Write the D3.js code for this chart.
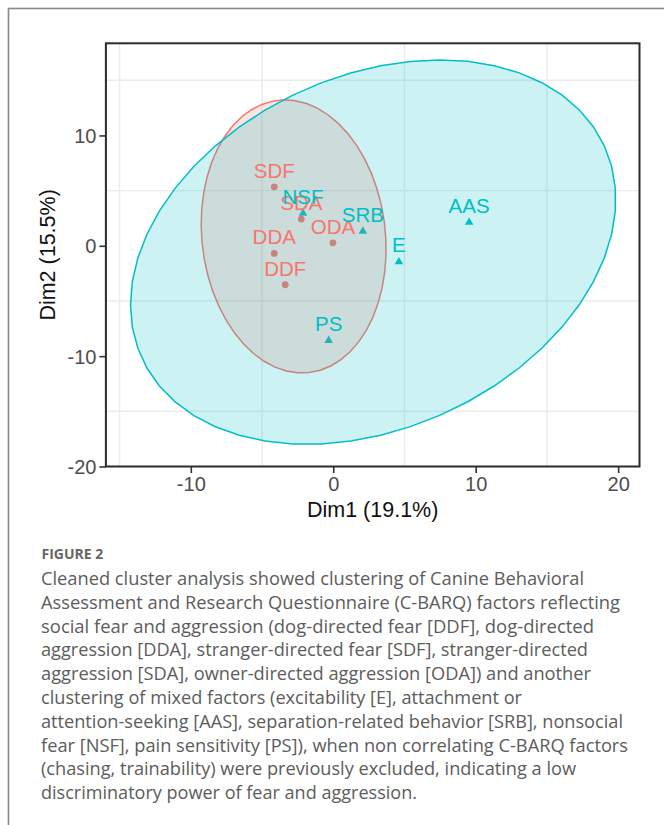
<!DOCTYPE html>
<html lang="en">
<head>
  <meta charset="utf-8">
  <title>Figure 2</title>
  <script src="https://d3js.org/d3.v7.min.js"></script>
  <style>
    body { margin: 0; background: #fff; }
    .tick text { font-family: "Liberation Sans", Arial, sans-serif; }
  </style>
</head>
<body>
<div id="chart"></div>
<script>
// factor coordinates
var factorNames = ["SDF", "SDA", "ODA", "DDA", "DDF", "NSF", "SRB", "E", "PS", "AAS"];
var dim1Vals = [-4.14, -2.24, -0.02, -4.14, -3.37, -2.12, 2.08, 4.61, -0.32, 9.54];
var dim2Vals = [5.34, 2.42, 0.27, -0.69, -3.53, 2.99, 1.36, -1.41, -8.53, 2.17];
var clusterOf = [1, 1, 1, 1, 1, 2, 2, 2, 2, 2];

// cluster ellipses: centre plus two conjugate radius vectors (data units)
var ellCenter = [[-2.78, 0.85], [2.80, -0.57]];
var ellU = [[1.08, -12.34], [16.23, 9.63]];
var ellV = [[-6.40, -0.93], [5.17, -14.51]];

var xTicks = [-10, 0, 10, 20];
var yTicks = [-20, -10, 0, 10];
var xGrid = [-15, -5, 5, 15];
var yGrid = [-15, -5, 5, 15];

var captionLines = [
  "Cleaned cluster analysis showed clustering of Canine Behavioral",
  "Assessment and Research Questionnaire (C-BARQ) factors reflecting",
  "social fear and aggression (dog-directed fear [DDF], dog-directed",
  "aggression [DDA], stranger-directed fear [SDF], stranger-directed",
  "aggression [SDA], owner-directed aggression [ODA]) and another",
  "clustering of mixed factors (excitability [E], attachment or",
  "attention-seeking [AAS], separation-related behavior [SRB], nonsocial",
  "fear [NSF], pain sensitivity [PS]), when non correlating C-BARQ factors",
  "(chasing, trainability) were previously excluded, indicating a low",
  "discriminatory power of fear and aggression."
];
// where each caption line ends in the original (the journal font is wider)
var captionEnds = [584, 620, 594, 588, 591, 522, 623, 628, 576, 417];

var colors = {1: "#F8766D", 2: "#00BFC4"};

var W = 664, H = 825;
var svg = d3.select("#chart").append("svg")
  .attr("width", W).attr("height", H);

// card outline
svg.append("rect")
  .attr("x", 8.5).attr("y", 8.5).attr("width", 720).attr("height", 900)
  .attr("fill", "#fff").attr("stroke", "#8a8a8a").attr("stroke-width", 1.6);

var pLeft = 105.9, pRight = 639.5, pTop = 43.3, pBottom = 466.5;
var x = d3.scaleLinear().domain([-15.96, 21.5]).range([pLeft, pRight]);
var y = d3.scaleLinear().domain([-20, 18.35]).range([pBottom, pTop]);

var plot = svg.append("g");

// grid (only at the in-between positions, like the original)
plot.selectAll(".gx").data(xGrid).enter().append("line")
  .attr("x1", function(d) { return x(d); }).attr("x2", function(d) { return x(d); })
  .attr("y1", pTop).attr("y2", pBottom)
  .attr("stroke", "#ebebeb").attr("stroke-width", 1.4);
plot.selectAll(".gy").data(yGrid).enter().append("line")
  .attr("y1", function(d) { return y(d); }).attr("y2", function(d) { return y(d); })
  .attr("x1", pLeft).attr("x2", pRight)
  .attr("stroke", "#ebebeb").attr("stroke-width", 1.4);

var pts = factorNames.map(function(n, i) {
  return {name: n, d1: dim1Vals[i], d2: dim2Vals[i], cl: clusterOf[i]};
});

// points (drawn under the ellipses)
plot.selectAll(".pc").data(pts.filter(function(d) { return d.cl === 1; })).enter()
  .append("circle")
  .attr("cx", function(d) { return x(d.d1); })
  .attr("cy", function(d) { return y(d.d2); })
  .attr("r", 3.4)
  .attr("fill", colors[1]);
plot.selectAll(".pt").data(pts.filter(function(d) { return d.cl === 2; })).enter()
  .append("path")
  .attr("d", d3.symbol().type(d3.symbolTriangle).size(32))
  .attr("transform", function(d) { return "translate(" + x(d.d1) + "," + (y(d.d2) + 0.5) + ")"; })
  .attr("fill", colors[2]);

// ellipses
var line = d3.line().x(function(p) { return x(p[0]); }).y(function(p) { return y(p[1]); });
[0, 1].forEach(function(k) {
  var ring = d3.range(52).map(function(j) {
    var t = 2 * Math.PI * j / 51;
    return [ellCenter[k][0] + Math.cos(t) * ellU[k][0] + Math.sin(t) * ellV[k][0],
            ellCenter[k][1] + Math.cos(t) * ellU[k][1] + Math.sin(t) * ellV[k][1]];
  });
  plot.append("path")
    .attr("d", line(ring) + "Z")
    .attr("fill", colors[k + 1]).attr("fill-opacity", 0.2)
    .attr("stroke", colors[k + 1]).attr("stroke-width", 1.5);
});

// labels
plot.selectAll(".lab").data(pts).enter().append("text")
  .attr("x", function(d) { return x(d.d1); })
  .attr("y", function(d) { return y(d.d2) - 9.2; })
  .attr("text-anchor", "middle")
  .attr("font-family", "Liberation Sans, Arial, sans-serif")
  .attr("font-size", 20.5)
  .attr("fill", function(d) { return colors[d.cl]; })
  .text(function(d) { return d.name; });

// axes
var xAxis = svg.append("g").attr("transform", "translate(0," + pBottom + ")")
  .call(d3.axisBottom(x).tickValues(xTicks).tickSize(6.5).tickPadding(4));
var yAxis = svg.append("g").attr("transform", "translate(" + pLeft + ",0)")
  .call(d3.axisLeft(y).tickValues(yTicks).tickSize(6.5).tickPadding(3));
[xAxis, yAxis].forEach(function(a) {
  a.select(".domain").remove();
  a.selectAll(".tick line").attr("stroke", "#333").attr("stroke-width", 1.6);
  a.selectAll(".tick text").attr("fill", "#4d4d4d").attr("font-size", 20)
    .text(function(d) { return String(d); });   // plain hyphen minus, like the original
});
yAxis.selectAll(".tick text").attr("dy", "0.36em");

// panel border
svg.append("rect")
  .attr("x", pLeft).attr("y", pTop).attr("width", pRight - pLeft).attr("height", pBottom - pTop)
  .attr("fill", "none").attr("stroke", "#2b2b2b").attr("stroke-width", 2);

// axis titles
svg.append("text")
  .attr("x", (pLeft + pRight) / 2).attr("y", 517)
  .attr("text-anchor", "middle")
  .attr("font-family", "Liberation Sans, Arial, sans-serif")
  .attr("font-size", 21.5).attr("fill", "#111")
  .text("Dim1 (19.1%)");
svg.append("text")
  .attr("transform", "translate(55," + (pTop + pBottom) / 2 + ") rotate(-90)")
  .attr("text-anchor", "middle")
  .attr("font-family", "Liberation Sans, Arial, sans-serif")
  .attr("font-size", 21.5).attr("fill", "#111")
  .text("Dim2 (15.5%)");

// caption
svg.append("text")
  .attr("x", 41.5).attr("y", 558.5)
  .attr("font-family", "Open Sans, sans-serif")
  .attr("font-size", 14).attr("font-weight", 700).attr("fill", "#666")
  .text("FIGURE 2");
svg.selectAll(".cap").data(captionLines).enter().append("text")
  .attr("x", 41)
  .attr("y", function(d, i) { return 585 + i * 23.8; })
  .attr("font-family", "Open Sans, sans-serif")
  .attr("font-size", 17.6).attr("fill", "#5c5c5c")
  .attr("textLength", function(d, i) { return captionEnds[i] - 41; })
  .attr("lengthAdjust", "spacingAndGlyphs")
  .text(function(d) { return d; });
</script>
</body>
</html>
